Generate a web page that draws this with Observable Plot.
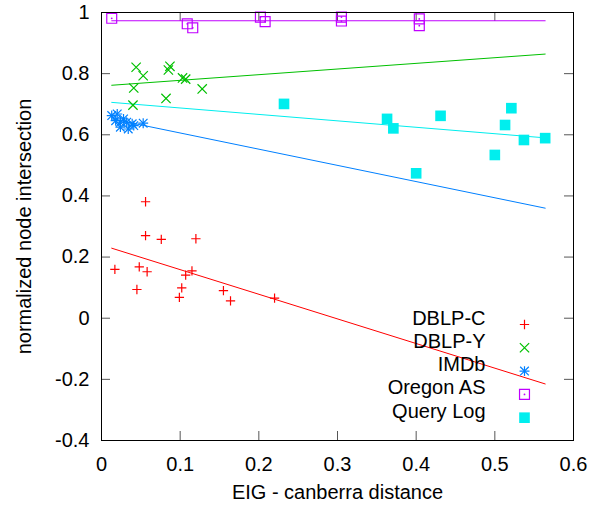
<!DOCTYPE html>
<html>
<head>
<meta charset="utf-8">
<script src="https://cdn.jsdelivr.net/npm/d3@7"></script>
<script src="https://cdn.jsdelivr.net/npm/@observablehq/plot@0.6"></script>
<style>
  html, body { margin: 0; padding: 0; background: #fff; }
  #chart svg { display: block; }
</style>
</head>
<body>
<div id="chart"></div>
<script>
// ---- data ----
const seriesNames = ["DBLP-C", "DBLP-Y", "IMDb", "Oregon AS", "Query Log"];
const seriesColors = ["#ff0000", "#00c000", "#0080ff", "#c000ff", "#00eeee"];

const dblpCX = [0.056, 0.056, 0.076, 0.120, 0.017, 0.048, 0.058, 0.107, 0.115, 0.045, 0.102, 0.099, 0.155, 0.164, 0.220];
const dblpCY = [0.381, 0.270, 0.258, 0.260, 0.160, 0.168, 0.152, 0.141, 0.155, 0.094, 0.099, 0.068, 0.090, 0.057, 0.066];

const dblpYX = [0.044, 0.053, 0.041, 0.040, 0.087, 0.085, 0.082, 0.103, 0.107, 0.128];
const dblpYY = [0.821, 0.793, 0.753, 0.697, 0.824, 0.812, 0.719, 0.786, 0.782, 0.750];

const imdbX = [0.013, 0.020, 0.018, 0.024, 0.028, 0.032, 0.039, 0.034, 0.041, 0.053, 0.024];
const imdbY = [0.663, 0.668, 0.646, 0.641, 0.652, 0.641, 0.636, 0.619, 0.630, 0.638, 0.625];

const oregonX = [0.013, 0.109, 0.116, 0.202, 0.208, 0.305, 0.305, 0.404, 0.404];
const oregonY = [0.981, 0.963, 0.950, 0.985, 0.970, 0.985, 0.972, 0.979, 0.957];

const queryX = [0.232, 0.363, 0.371, 0.431, 0.400, 0.500, 0.513, 0.521, 0.537, 0.564];
const queryY = [0.701, 0.652, 0.621, 0.662, 0.474, 0.534, 0.632, 0.687, 0.583, 0.589];

// fitted lines: value at the start and end of the common x range
const fitX = [0.013, 0.564];
const fitStart = [0.229, 0.762, 0.652, 0.973, 0.706];
const fitEnd = [-0.215, 0.864, 0.360, 0.973, 0.590];

const xTicks = [0, 0.1, 0.2, 0.3, 0.4, 0.5, 0.6];
const yTicks = [-0.4, -0.2, 0, 0.2, 0.4, 0.6, 0.8, 1];
const xLabel = "EIG - canberra distance";
const yLabel = "normalized node intersection";

// ---- layout ----
const W = 601, H = 511;
const mL = 101, mR = 28, mT = 12, mB = 71;
const pW = W - mL - mR, pH = H - mT - mB;
const tickLen = 9;

const rows = (xs, ys) => xs.map((x, i) => ({x, y: ys[i]}));
const fmt = d => String(+(+d).toFixed(1));

const fitRows = seriesNames.flatMap((s, i) => [
  {series: s, x: fitX[0], y: fitStart[i]},
  {series: s, x: fitX[1], y: fitEnd[i]}
]);

const C = seriesColors;
const sym = {
  plus: {symbol: "plus", r: 3.1, fill: "none", strokeWidth: 1.2},
  times: {symbol: "times", r: 4.3, fill: "none", strokeWidth: 1.2},
  sqOpen: {symbol: "square", r: 5.6, fill: "none", strokeWidth: 1.2},
  sqFill: {symbol: "square", r: 6.0, stroke: "none"}
};

function seriesMarks(data, i, extra) {
  const c = C[i];
  const m = [];
  if (i === 0) m.push(Plot.dot(data, {...extra, ...sym.plus, stroke: c}));
  if (i === 1) m.push(Plot.dot(data, {...extra, ...sym.times, stroke: c}));
  if (i === 2) {
    m.push(Plot.dot(data, {...extra, ...sym.plus, r: 3.3, stroke: c}));
    m.push(Plot.dot(data, {...extra, ...sym.times, r: 4.0, stroke: c}));
  }
  if (i === 3) {
    m.push(Plot.dot(data, {...extra, ...sym.sqOpen, stroke: c}));
    m.push(Plot.dot(data, {...extra, r: 0.9, fill: c, stroke: "none"}));
  }
  if (i === 4) m.push(Plot.dot(data, {...extra, ...sym.sqFill, fill: c}));
  return m;
}

const seriesData = [
  rows(dblpCX, dblpCY),
  rows(dblpYX, dblpYY),
  rows(imdbX, imdbY),
  rows(oregonX, oregonY),
  rows(queryX, queryY)
];

const legendMarks = seriesNames.flatMap((s, i) => {
  const dy = -116 + 23.3 * i;
  return [
    Plot.text([s], {frameAnchor: "bottom-right", dx: -88, dy, textAnchor: "end", fill: "#000"}),
    ...seriesMarks([s], i, {frameAnchor: "bottom-right", dx: -49, dy})
  ];
});

const chart = Plot.plot({
  width: W, height: H,
  marginLeft: mL, marginRight: mR, marginTop: mT, marginBottom: mB,
  style: {fontFamily: "'Liberation Sans', Arial, sans-serif", fontSize: "20px", background: "#fff", color: "#000"},
  x: {domain: [0, 0.6]},
  y: {domain: [-0.4, 1]},
  marks: [
    // inward ticks on all four sides
    Plot.tickY(yTicks, {y: d => d, insetRight: pW - tickLen, stroke: "#555"}),
    Plot.tickY(yTicks, {y: d => d, insetLeft: pW - tickLen, stroke: "#555"}),
    Plot.tickX(xTicks, {x: d => d, insetTop: pH - tickLen, stroke: "#555"}),
    Plot.tickX(xTicks, {x: d => d, insetBottom: pH - tickLen, stroke: "#555"}),
    Plot.axisX({ticks: xTicks, tickSize: 0, tickPadding: 16, tickFormat: fmt, label: null, fill: "#000"}),
    Plot.axisY({ticks: yTicks, tickSize: 0, tickPadding: 12, tickFormat: fmt, label: null, fill: "#000"}),
    Plot.text([xLabel], {frameAnchor: "bottom", dy: 58, fill: "#000"}),
    Plot.text([yLabel], {frameAnchor: "left", dx: -77, rotate: -90, textAnchor: "middle", fill: "#000"}),
    // fitted lines
    Plot.line(fitRows, {x: "x", y: "y", z: "series", stroke: "series", strokeWidth: 1}),
    // points
    ...seriesData.flatMap((d, i) => seriesMarks(d, i, {x: "x", y: "y"})),
    // legend
    ...legendMarks,
    Plot.frame({stroke: "#000", strokeWidth: 1})
  ],
  color: {domain: seriesNames, range: seriesColors}
});

document.getElementById("chart").appendChild(chart);
</script>
</body>
</html>
